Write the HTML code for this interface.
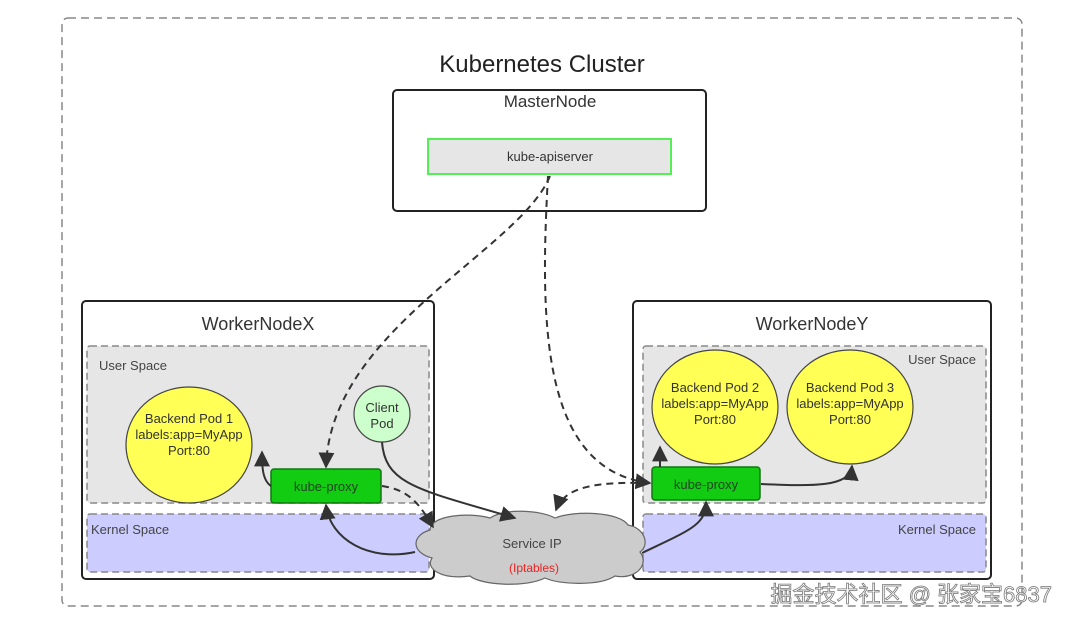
<!DOCTYPE html>
<html><head><meta charset="utf-8"><style>
html,body{margin:0;padding:0;background:#fff;}
svg{display:block;font-family:"Liberation Sans","Noto Sans CJK SC",sans-serif;}
</style></head><body>
<svg width="1074" height="626" viewBox="0 0 1074 626" xmlns="http://www.w3.org/2000/svg">
<defs>
<marker id="a" viewBox="0 0 10 10" refX="9" refY="5" markerWidth="8" markerHeight="8" orient="auto-start-reverse"><path d="M0,0 L10,5 L0,10 z" fill="#333"/></marker>
</defs>
<rect x="62" y="18" width="960" height="588" rx="6" fill="none" stroke="#888" stroke-width="1.5" stroke-dasharray="8,5"/>
<text x="542" y="72" font-size="24" text-anchor="middle" fill="#222">Kubernetes Cluster</text>

<rect x="393" y="90" width="313" height="121" rx="4" fill="#fff" stroke="#222" stroke-width="2"/>
<text x="550" y="107" font-size="17" text-anchor="middle" fill="#333">MasterNode</text>
<rect x="428" y="139" width="243" height="35" fill="#e6e6e6" stroke="#55ee55" stroke-width="2"/>
<text x="550" y="161" font-size="13" text-anchor="middle" fill="#333">kube-apiserver</text>

<!-- Worker X -->
<rect x="82" y="301" width="352" height="278" rx="4" fill="#fff" stroke="#222" stroke-width="2"/>
<text x="258" y="330" font-size="18" text-anchor="middle" fill="#333">WorkerNodeX</text>
<rect x="87" y="346" width="342" height="157" rx="3" fill="#e6e6e6" stroke="#888" stroke-width="1.5" stroke-dasharray="7,4"/>
<text x="99" y="370" font-size="13" fill="#444">User Space</text>
<rect x="87" y="514" width="342" height="58" rx="3" fill="#ccccff" stroke="#888" stroke-width="1.5" stroke-dasharray="7,4"/>
<text x="91" y="534" font-size="13" fill="#444">Kernel Space</text>
<ellipse cx="189" cy="445" rx="63" ry="58" fill="#ffff55" stroke="#444" stroke-width="1.2"/>
<text font-size="13" text-anchor="middle" fill="#333"><tspan x="189" y="423">Backend Pod 1</tspan><tspan x="189" y="439">labels:app=MyApp</tspan><tspan x="189" y="455">Port:80</tspan></text>
<circle cx="382" cy="414" r="28" fill="#ccffcc" stroke="#444" stroke-width="1.2"/>
<text font-size="13" text-anchor="middle" fill="#333"><tspan x="382" y="412">Client</tspan><tspan x="382" y="428">Pod</tspan></text>
<rect x="271" y="469" width="110" height="34" rx="3" fill="#11cc11" stroke="#117711" stroke-width="1.5"/>
<text x="326" y="491" font-size="13" text-anchor="middle" fill="#224422">kube-proxy</text>

<!-- Worker Y -->
<rect x="633" y="301" width="358" height="278" rx="4" fill="#fff" stroke="#222" stroke-width="2"/>
<text x="812" y="330" font-size="18" text-anchor="middle" fill="#333">WorkerNodeY</text>
<rect x="643" y="346" width="343" height="157" rx="3" fill="#e6e6e6" stroke="#888" stroke-width="1.5" stroke-dasharray="7,4"/>
<text x="976" y="364" font-size="13" text-anchor="end" fill="#444">User Space</text>
<rect x="643" y="514" width="343" height="58" rx="3" fill="#ccccff" stroke="#888" stroke-width="1.5" stroke-dasharray="7,4"/>
<text x="976" y="534" font-size="13" text-anchor="end" fill="#444">Kernel Space</text>
<ellipse cx="715" cy="407" rx="63" ry="57" fill="#ffff55" stroke="#444" stroke-width="1.2"/>
<text font-size="13" text-anchor="middle" fill="#333"><tspan x="715" y="392">Backend Pod 2</tspan><tspan x="715" y="408">labels:app=MyApp</tspan><tspan x="715" y="424">Port:80</tspan></text>
<ellipse cx="850" cy="407" rx="63" ry="57" fill="#ffff55" stroke="#444" stroke-width="1.2"/>
<text font-size="13" text-anchor="middle" fill="#333"><tspan x="850" y="392">Backend Pod 3</tspan><tspan x="850" y="408">labels:app=MyApp</tspan><tspan x="850" y="424">Port:80</tspan></text>
<rect x="652" y="467" width="108" height="33" rx="3" fill="#11cc11" stroke="#117711" stroke-width="1.5"/>
<text x="706" y="489" font-size="13" text-anchor="middle" fill="#224422">kube-proxy</text>

<!-- Cloud -->
<path d="M430,530 C430,515 470,512 490,518 C505,508 540,510 555,518 C575,510 620,512 628,525 C645,528 650,545 640,552 C650,565 635,580 615,576 C600,586 560,585 545,578 C525,588 480,585 470,576 C440,580 425,568 432,558 C410,552 412,535 430,530 Z" fill="#cccccc" stroke="#666" stroke-width="1.2"/>
<text x="532" y="548" font-size="13" text-anchor="middle" fill="#444">Service IP</text>
<text x="534" y="572" font-size="12" text-anchor="middle" fill="#ee2222">(Iptables)</text>

<!-- dashed connectors -->
<g fill="none" stroke="#333" stroke-width="2" stroke-dasharray="7,5">
<path d="M550,176 C520,250 330,330 326,467" marker-end="url(#a)"/>
<path d="M548,176 C540,320 540,470 650,483" marker-end="url(#a)"/>
<path d="M382,486 C410,490 420,505 433,527" marker-end="url(#a)"/>
<path d="M556,510 C565,485 600,482 650,483" marker-start="url(#a)"/>
</g>
<!-- solid connectors -->
<g fill="none" stroke="#333" stroke-width="2">
<path d="M271,486 C262,480 262,465 262,452" marker-end="url(#a)"/>
<path d="M382,442 C385,485 420,490 515,518" marker-end="url(#a)"/>
<path d="M415,552 C370,562 330,540 326,505" marker-end="url(#a)"/>
<path d="M642,553 C690,530 706,525 706,502" marker-end="url(#a)"/>
<path d="M660,467 L660,447" marker-end="url(#a)"/>
<path d="M761,484 C810,486 850,488 852,466" marker-end="url(#a)"/>
</g>

<text x="1052" y="602" font-size="22" text-anchor="end" fill="#fff" stroke="#777" stroke-width="0.8">掘金技术社区 @ 张家宝6837</text>
</svg>
</body></html>
